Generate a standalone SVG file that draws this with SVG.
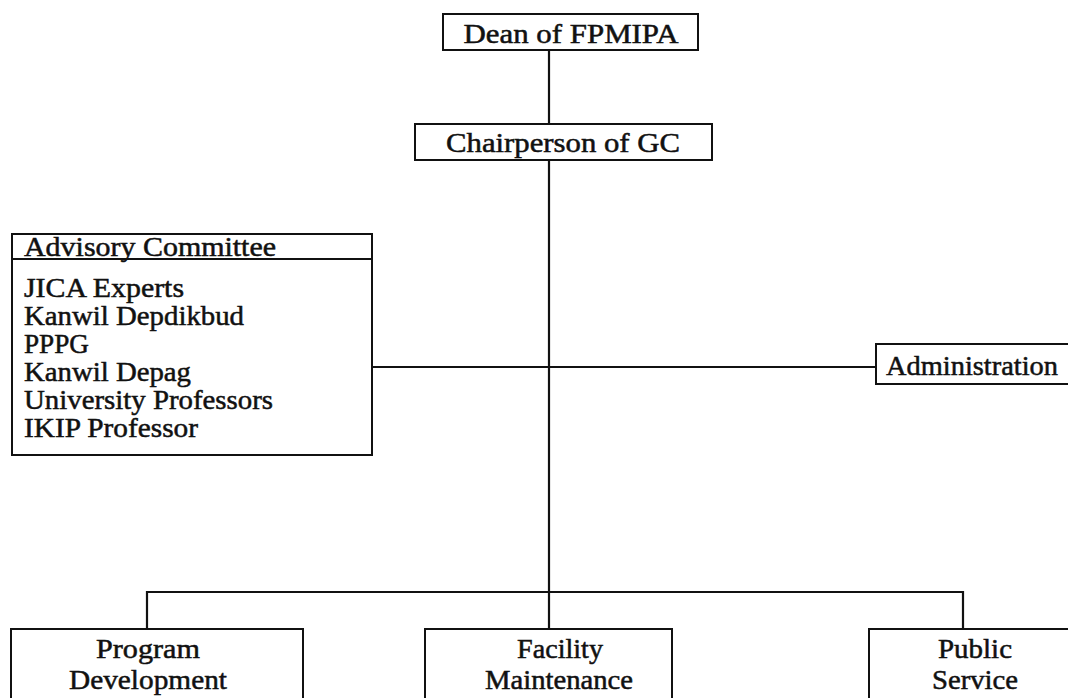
<svg xmlns="http://www.w3.org/2000/svg" width="1068" height="698" viewBox="0 0 1068 698">
  <style>
    .box { fill: #ffffff; stroke: #111111; stroke-width: 2; }
    .line { fill: none; stroke: #111111; stroke-width: 2.2; }
    text { font-family: "Liberation Serif", "Times New Roman", serif; font-size: 27px; fill: #111111; stroke: #111111; stroke-width: 0.5; }
    .c { text-anchor: middle; }
  </style>
  <rect width="1068" height="698" fill="#ffffff"/>

  <!-- connectors -->
  <g id="connectors">
    <line class="line" x1="549" y1="50" x2="549" y2="124"/>
    <line class="line" x1="549" y1="160" x2="549" y2="629"/>
    <line class="line" x1="372" y1="367" x2="876" y2="367"/>
    <polyline class="line" points="147,629 147,592 963,592 963,629"/>
  </g>

  <g id="dean">
    <rect class="box" x="443" y="14" width="255" height="36"/>
    <text class="c" x="571" y="43" textLength="215" lengthAdjust="spacingAndGlyphs">Dean of  FPMIPA</text>
  </g>

  <g id="chairperson">
    <rect class="box" x="415" y="124" width="297" height="36"/>
    <text class="c" x="563" y="152" textLength="234" lengthAdjust="spacingAndGlyphs">Chairperson of  GC</text>
  </g>

  <g id="advisory">
    <rect class="box" x="12" y="234" width="360" height="221"/>
    <line class="line" x1="12" y1="259" x2="372" y2="259"/>
    <text x="24" y="256" textLength="252" lengthAdjust="spacingAndGlyphs">Advisory  Committee</text>
    <text x="24" y="297" textLength="160" lengthAdjust="spacingAndGlyphs">JICA Experts</text>
    <text x="24" y="325" textLength="220" lengthAdjust="spacingAndGlyphs">Kanwil Depdikbud</text>
    <text x="24" y="353" textLength="65" lengthAdjust="spacingAndGlyphs">PPPG</text>
    <text x="24" y="381" textLength="167" lengthAdjust="spacingAndGlyphs">Kanwil Depag</text>
    <text x="24" y="409" textLength="249" lengthAdjust="spacingAndGlyphs">University Professors</text>
    <text x="24" y="437" textLength="174" lengthAdjust="spacingAndGlyphs">IKIP Professor</text>
  </g>

  <g id="administration">
    <rect class="box" x="876" y="344" width="200" height="40"/>
    <text x="886" y="375" textLength="172" lengthAdjust="spacingAndGlyphs">Administration</text>
  </g>

  <g id="program-development">
    <rect class="box" x="11" y="629" width="292" height="80"/>
    <text class="c" x="148" y="658" textLength="104" lengthAdjust="spacingAndGlyphs">Program</text>
    <text class="c" x="148" y="689" textLength="158" lengthAdjust="spacingAndGlyphs">Development</text>
  </g>

  <g id="facility-maintenance">
    <rect class="box" x="425" y="629" width="247" height="80"/>
    <text class="c" x="560" y="658" textLength="86" lengthAdjust="spacingAndGlyphs">Facility</text>
    <text class="c" x="559" y="689" textLength="148" lengthAdjust="spacingAndGlyphs">Maintenance</text>
  </g>

  <g id="public-service">
    <rect class="box" x="869" y="629" width="210" height="80"/>
    <text class="c" x="975" y="658" textLength="74" lengthAdjust="spacingAndGlyphs">Public</text>
    <text class="c" x="975" y="689" textLength="86" lengthAdjust="spacingAndGlyphs">Service</text>
  </g>
</svg>
